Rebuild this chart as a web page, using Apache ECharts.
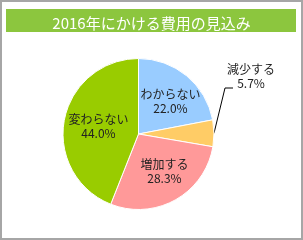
<!DOCTYPE html>
<html><head><meta charset="utf-8">
<script src="https://cdn.jsdelivr.net/npm/echarts@6/dist/echarts.min.js"></script>
<style>html,body{margin:0;padding:0;background:#fff}#c{width:303px;height:240px}</style>
</head><body><div id="c"></div>
<script>
const titleText = '2016年にかける費用の見込み';
const categories = ['わからない', '減少する', '増加する', '変わらない'];
const values = [22.0, 5.7, 28.3, 44.0];
const colors = ['#99CCFF', '#FFCC66', '#FF9999', '#99CC00'];

const chart = echarts.init(document.getElementById('c'), null, {renderer: 'canvas'});
const FONT = '"Noto Sans CJK JP", "Noto Sans", sans-serif';
chart.setOption({
  animation: false,
  graphic: [
    {type: 'rect', shape: {x: 1, y: 1, width: 301, height: 238}, style: {fill: '#fff', stroke: '#a6a6a6', lineWidth: 2}, z: -10},
    {type: 'rect', shape: {x: 6, y: 9, width: 290, height: 23}, style: {fill: '#8CC63E'}, z: -5}
  ],
  title: {
    text: titleText, left: 'center', top: 11,
    textStyle: {color: '#fff', fontSize: 15, fontWeight: 'normal', fontFamily: FONT}
  },
  series: [{
    type: 'pie',
    center: [138.5, 134],
    radius: [0, 75.5],
    startAngle: 90,
    clockwise: true,
    itemStyle: {borderColor: '#fff', borderWidth: 1},
    data: categories.map((n, i) => ({
      name: n, value: values[i], itemStyle: {color: colors[i]},
      label: i === 1 ? {position: 'outside'} : {position: 'inside'},
      labelLine: {show: i === 1, lineStyle: {color: '#000', width: 1}}
    })),
    label: {
      formatter: p => p.name + '\n' + p.value.toFixed(1) + '%',
      color: '#222', fontSize: 12, lineHeight: 14, fontFamily: FONT, align: 'center'
    },
    labelLine: {length: 10, length2: 8},
    labelLayout: function (p) {
      if (p.dataIndex === 1) {
        const s = p.labelLinePoints ? p.labelLinePoints[0] : [214, 135];
        return {
          x: 251, y: 76, align: 'center', verticalAlign: 'middle',
          labelLinePoints: [s, [225, 88], [233, 88]]
        };
      }
      if (p.dataIndex === 0) return {dx: 6, dy: -1};
      if (p.dataIndex === 2) return {dx: 6, dy: 2};
      return {};
    }
  }]
});
</script></body></html>
